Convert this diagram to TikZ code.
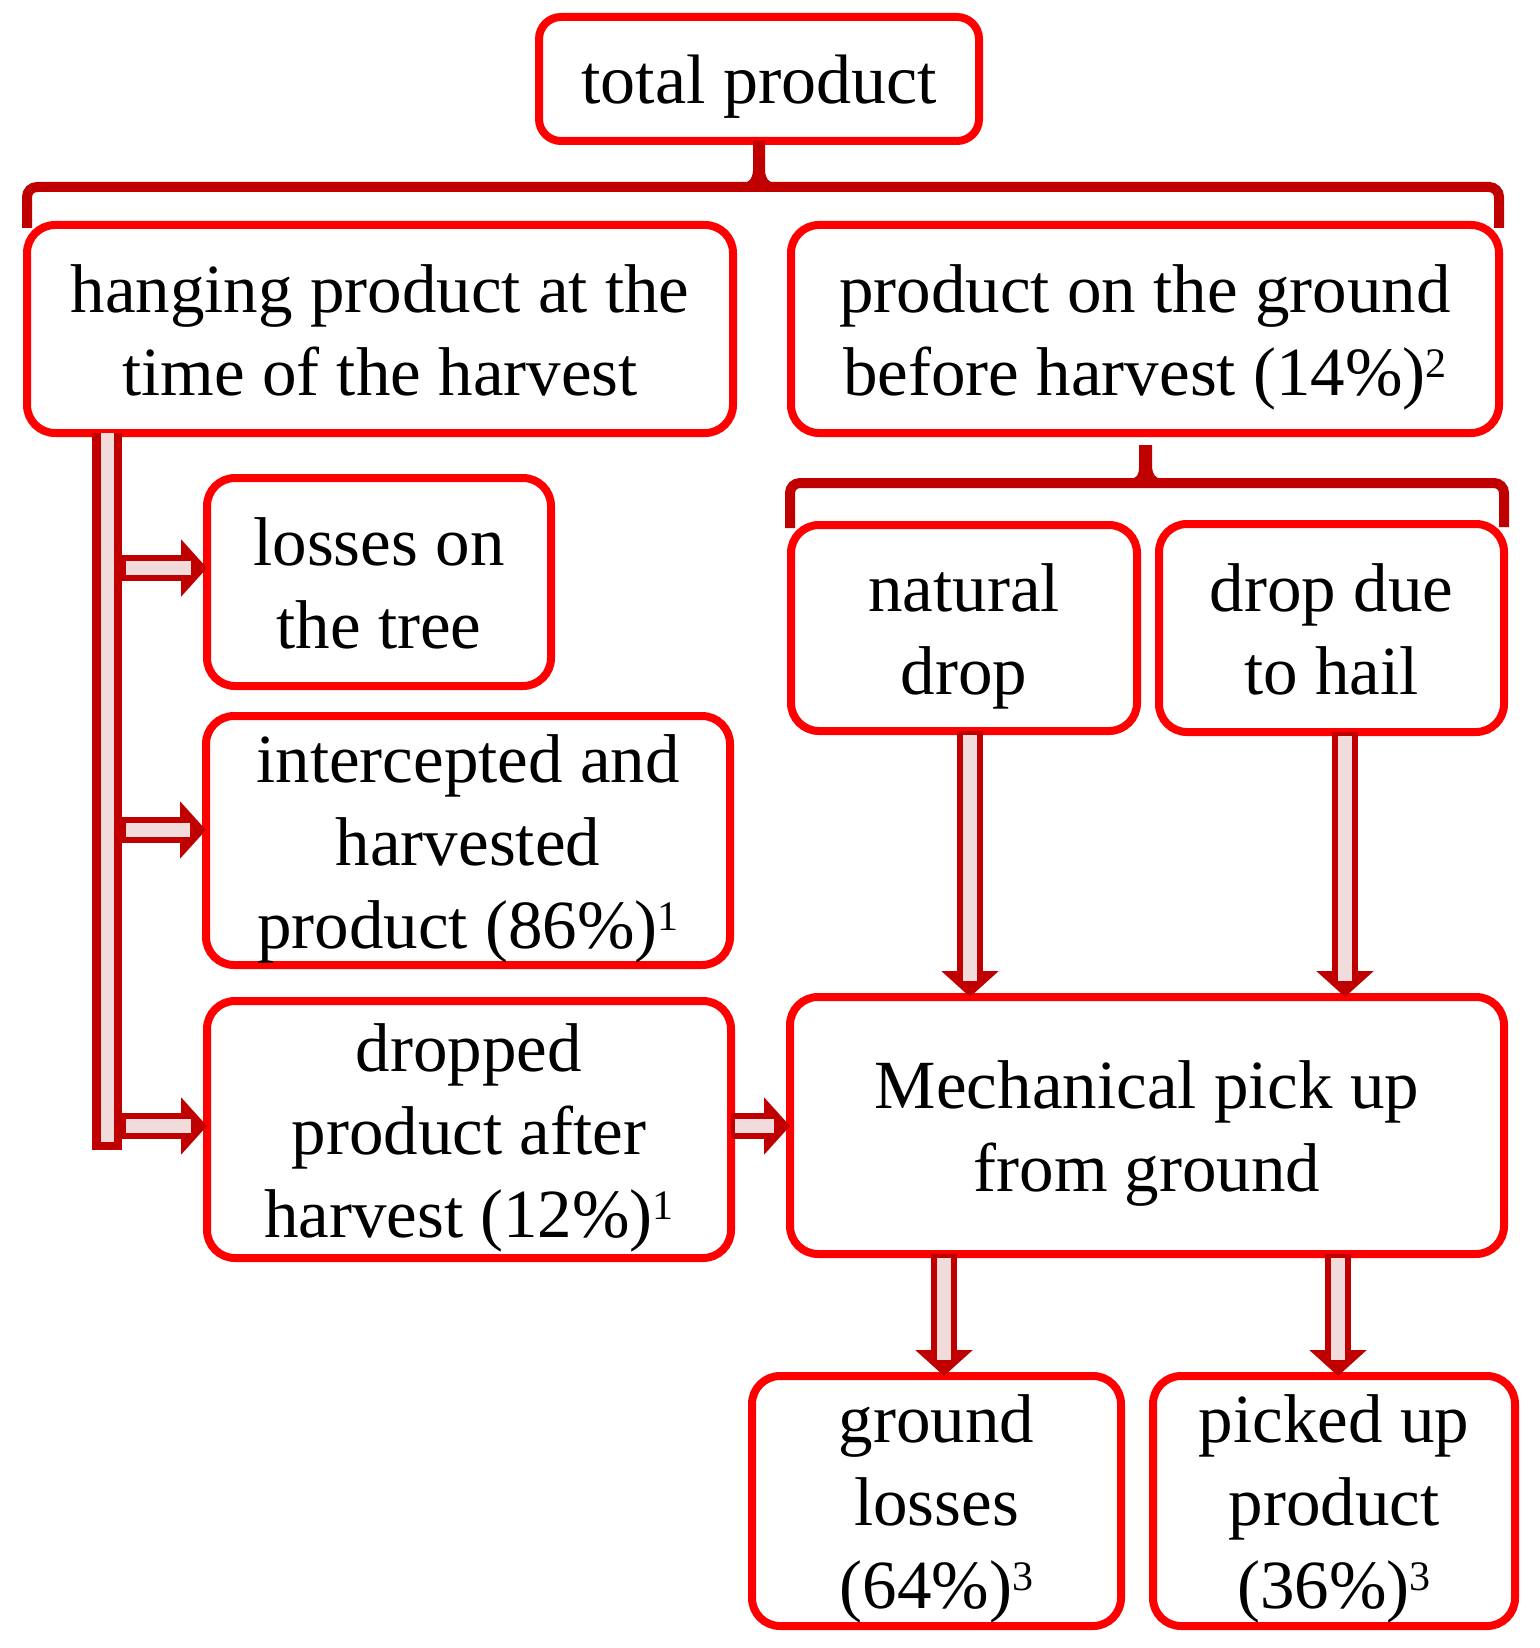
\documentclass[tikz,border=0pt]{standalone}
\usepackage{fontspec}
\setmainfont{Liberation Serif}
\usetikzlibrary{arrows.meta}
\definecolor{boxred}{HTML}{FF0000}
\definecolor{dkred}{HTML}{C00000}
\definecolor{pinkf}{HTML}{F2DCDB}
\newcommand\blockarr[2]{\draw[arrout] (#1) -- (#2); \draw[arrin] (#1) -- (#2);}
\newcommand\ls{\rule[-8.5pt]{0pt}{41.5pt}}
\newcommand\sups[1]{\raisebox{9pt}{\fontsize{21}{21}\selectfont #1}}
\begin{document}
\begin{tikzpicture}[x=0.5pt,y=-0.5pt,
  box/.style={draw=boxred, line width=4pt, rounded corners=14pt, align=center,
    inner sep=0pt, outer sep=0pt, font=\fontsize{34.5}{41.5}\selectfont},
  brk/.style={draw=dkred, line width=5pt, rounded corners=5pt},
  arrout/.style={draw=dkred, line width=13pt, -{Triangle[length=13pt,width=28pt]}},
  arrin/.style={draw=pinkf, line width=7pt, shorten >=8pt, shorten <=2pt},
]
\useasboundingbox (0,0) rectangle (1539,1648);

% nodes
\node[box, rounded corners=11pt, minimum width=220pt, minimum height=62pt,
      font=\fontsize{35}{41.5}\selectfont] (total) at (759,79) {\ls total product};
\node[box, minimum width=353pt, minimum height=104pt] (hang) at (380,329)
  {\ls hanging product at the\\\ls time of the harvest};
\node[box, minimum width=354pt, minimum height=104pt] (ground) at (1145,329)
  {\ls product on the ground\\\ls before harvest (14\%)\sups{2}};
\node[box, minimum width=173pt, minimum height=103pt] (nat) at (964,628)
  {\ls natural\\\ls drop};
\node[box, minimum width=172.5pt, minimum height=104pt] (hail) at (1331.5,628)
  {\ls drop due\\\ls to hail};
\node[box, minimum width=172pt, minimum height=104pt] (loss) at (379,582)
  {\ls losses on\\\ls the tree};
\node[box, minimum width=262pt, minimum height=121.5pt] (inter) at (468,840.5)
  {\ls intercepted and\\\ls harvested\\\ls product (86\%)\sups{1}};
\node[box, minimum width=262pt, minimum height=128.5pt] (drop) at (469,1129.5)
  {\ls dropped\\\ls product after\\\ls harvest (12\%)\sups{1}};
\node[box, minimum width=357pt, minimum height=128.5pt] (mech) at (1147,1125.5)
  {\ls Mechanical pick up\\\ls from ground};
\node[box, minimum width=184.5pt, minimum height=125pt] (gl) at (936.5,1501)
  {\ls ground\\\ls losses\\\ls (64\%)\sups{3}};
\node[box, minimum width=181pt, minimum height=125pt] (pu) at (1334,1501)
  {\ls picked up\\\ls product\\\ls (36\%)\sups{3}};

% top bracket
\coordinate (bk1) at (759,187);
\draw[brk] ([yshift=-1.5pt]hang.north west) |- (bk1) -| ([yshift=-1.5pt]ground.north east);
\begin{scope}[shift={(total.south)}]
  \fill[dkred] (-6,0) -- (6,0) -- (6,30) .. controls (7,38) and (9,41) .. (16,42)
    -- (-16,42) .. controls (-9,41) and (-7,38) .. (-6,30) -- cycle;
\end{scope}

% second bracket
\coordinate (bk2) at (1146,483);
\draw[brk] ([yshift=-1.5pt,xshift=-0.5pt]nat.north west) |- (bk2) -| ([yshift=-1.5pt]hail.north east);
\begin{scope}[shift={(ground.south)}]
  \fill[dkred] (-6,12) -- (7,12) -- (7,34) .. controls (8,42) and (10,45) .. (17,46)
    -- (-15,46) .. controls (-8,45) and (-6,42) .. (-6,34) -- cycle;
\end{scope}

% left trunk
\coordinate (tt) at ([xshift=40pt]hang.south west);
\coordinate (tb) at (107,1150);
\draw[dkred, line width=15pt] (tt) -- (tb);
\draw[pinkf, line width=6.5pt, shorten >=4pt] (tt) -- (tb);

\coordinate (t1) at (122,568);
\coordinate (t2) at (122,830);
\coordinate (t3) at (122,1126);
\blockarr{t1}{t1 -| loss.west}
\blockarr{t2}{t2 -| inter.west}
\blockarr{t3}{t3 -| drop.west}

% dropped -> mechanical
\coordinate (a5) at ([yshift=1.75pt]drop.east);
\blockarr{a5}{a5 -| mech.west}

% drops -> mechanical
\coordinate (a1) at ([xshift=3pt]nat.south);
\blockarr{a1}{a1 |- mech.north}
\coordinate (a2) at ([xshift=6.75pt]hail.south);
\blockarr{a2}{a2 |- mech.north}

% mechanical -> results
\coordinate (a3) at ([xshift=3.75pt]mech.south -| gl.north);
\blockarr{a3}{a3 |- gl.north}
\coordinate (a4) at ([xshift=2pt]mech.south -| pu.north);
\blockarr{a4}{a4 |- pu.north}
\end{tikzpicture}
\end{document}
